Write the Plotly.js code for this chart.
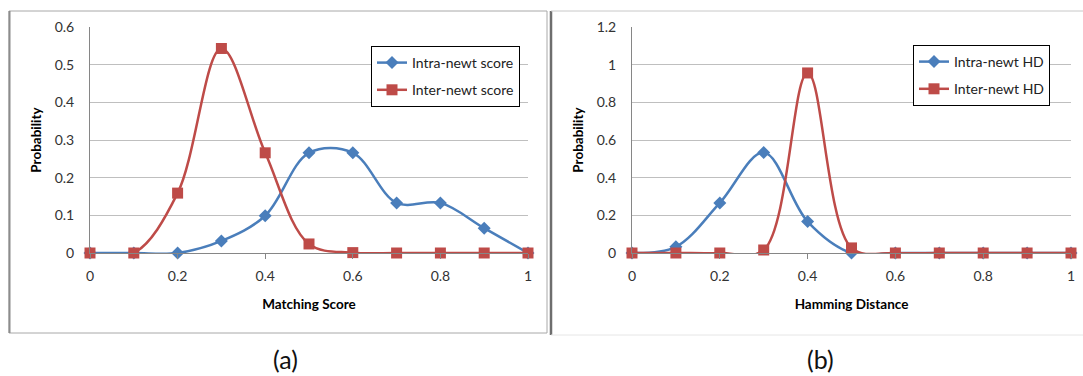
<!DOCTYPE html>
<html>
<head>
<meta charset="utf-8">
<script src="https://cdn.plot.ly/plotly-3.0.1.min.js"></script>
<style>
html,body{margin:0;padding:0;background:#fff;}
#chart{width:1083px;height:376px;}
</style>
</head>
<body>
<div id="chart"></div>
<script>
// ---- data ----
const xValues = [0, 0.1, 0.2, 0.3, 0.4, 0.5, 0.6, 0.7, 0.8, 0.9, 1];
const intraScore = [0, 0, 0, 0.032, 0.099, 0.266, 0.266, 0.133, 0.133, 0.066, 0];
const interScore = [0, 0, 0.159, 0.543, 0.266, 0.024, 0.001, 0, 0, 0, 0];
const intraHD = [0, 0.033, 0.266, 0.533, 0.167, 0, 0, 0, 0, 0, 0];
const interHD = [0, 0, 0, 0.016, 0.956, 0.027, 0, 0, 0, 0, 0];
const seriesNamesA = ["Intra-newt score", "Inter-newt score"];
const seriesNamesB = ["Intra-newt HD", "Inter-newt HD"];
const xTickVals = [0, 0.2, 0.4, 0.6, 0.8, 1];
const xTickText = ["0", "0.2", "0.4", "0.6", "0.8", "1"];
const yTickValsA = [0, 0.1, 0.2, 0.3, 0.4, 0.5, 0.6];
const yTickTextA = ["0", "0.1", "0.2", "0.3", "0.4", "0.5", "0.6"];
const yTickValsB = [0, 0.2, 0.4, 0.6, 0.8, 1, 1.2];
const yTickTextB = ["0", "0.2", "0.4", "0.6", "0.8", "1", "1.2"];
const xTitleA = "Matching Score";
const xTitleB = "Hamming Distance";
const yTitle = "Probability";
const panelLabels = ["(a)", "(b)"];

// ---- style ----
const W = 1083, H = 376;
const px = v => v / W;
const py = v => 1 - v / H;
const BLUE = "#4A7EBB", RED = "#BE4B48";
const FONT = "Lato, 'Open Sans', sans-serif";

function line(x, y, name, color, sym, size, xa, ya, legend, group) {
  return {
    x: x, y: y, name: name, type: "scatter", mode: "lines+markers",
    xaxis: xa, yaxis: ya, legend: legend, legendgroup: group,
    cliponaxis: false,
    line: {color: color, width: 2.5, shape: "spline", smoothing: 1},
    marker: {color: color, symbol: sym, size: size}
  };
}

const traces = [
  line(xValues, intraScore, seriesNamesA[0], BLUE, "diamond", 10, "x", "y", "legend", "a1"),
  line(xValues, interScore, seriesNamesA[1], RED, "square", 11, "x", "y", "legend", "a2"),
  line(xValues, intraHD, seriesNamesB[0], BLUE, "diamond", 10, "x2", "y2", "legend2", "b1"),
  line(xValues, interHD, seriesNamesB[1], RED, "square", 11, "x2", "y2", "legend2", "b2")
];

function xaxis(domain, title, anchor) {
  return {
    domain: domain, anchor: anchor, range: [0, 1], fixedrange: true,
    tickvals: xTickVals, ticktext: xTickText,
    showgrid: false, zeroline: false,
    showline: true, linecolor: "#868686", linewidth: 1,
    ticks: "outside", ticklen: 5, tickcolor: "#868686",
    ticklabelstandoff: 5,
    tickfont: {family: FONT, size: 14, color: "#333"},
    title: {text: title, font: {family: FONT, size: 13.5, color: "#000", weight: "bold"}, standoff: 16}
  };
}
function yaxis(domain, vals, text, anchor, maxv) {
  return {
    domain: domain, anchor: anchor, range: [0, maxv], fixedrange: true,
    tickvals: vals, ticktext: text,
    showgrid: true, gridcolor: "#BFBFBF", gridwidth: 1,
    zeroline: false,
    showline: true, linecolor: "#868686", linewidth: 1,
    ticks: "", ticklabelstandoff: 12,
    tickfont: {family: FONT, size: 14, color: "#333"},
    title: {text: yTitle, font: {family: FONT, size: 13.5, color: "#000", weight: "bold"}, standoff: 9}
  };
}

const yDom = [py(253), py(27)];

const legendStyle = (x, y) => ({
  x: x, y: y, xanchor: "left", yanchor: "top",
  xref: "paper", yref: "paper",
  bordercolor: "#000", borderwidth: 1, bgcolor: "#fff",
  font: {family: FONT, size: 14, color: "#222"},
  traceorder: "grouped", tracegroupgap: 6, itemwidth: 30
});

const layout = {
  width: W, height: H,
  margin: {l: 0, r: 0, t: 0, b: 0},
  paper_bgcolor: "#fff", plot_bgcolor: "rgba(0,0,0,0)",
  showlegend: true,
  xaxis: xaxis([px(90), px(528)], xTitleA, "y"),
  yaxis: yaxis(yDom, yTickValsA, yTickTextA, "x", 0.6),
  xaxis2: xaxis([px(632), px(1071)], xTitleB, "y2"),
  yaxis2: yaxis(yDom, yTickValsB, yTickTextB, "x2", 1.2),
  legend: legendStyle(px(371), py(46)),
  legend2: legendStyle(px(913), py(45)),
  shapes: [
    {type: "rect", xref: "paper", yref: "paper", x0: px(9), x1: px(547), y0: py(333), y1: py(11),
     line: {color: "#A8A8A8", width: 1}, layer: "below"},
    {type: "line", xref: "paper", yref: "paper", x0: px(9.5), x1: px(9.5), y0: py(333), y1: py(11),
     line: {color: "#8C8C8C", width: 2}, layer: "below"},
    {type: "line", xref: "paper", yref: "paper", x0: px(551), x1: px(551), y0: py(335), y1: py(11),
     line: {color: "#6E6E6E", width: 2.5}, layer: "below"},
    {type: "line", xref: "paper", yref: "paper", x0: px(551), x1: px(1083), y0: py(11), y1: py(11),
     line: {color: "#C8C8C8", width: 1}, layer: "below"},
    {type: "line", xref: "paper", yref: "paper", x0: px(551), x1: px(1083), y0: py(335), y1: py(335),
     line: {color: "#E6E6E6", width: 1}, layer: "below"}
  ],
  annotations: [
    {text: panelLabels[0], xref: "paper", yref: "paper", x: px(285), y: py(359),
     xanchor: "center", yanchor: "middle", showarrow: false,
     font: {family: FONT, size: 25, color: "#111"}},
    {text: panelLabels[1], xref: "paper", yref: "paper", x: px(820), y: py(359),
     xanchor: "center", yanchor: "middle", showarrow: false,
     font: {family: FONT, size: 25, color: "#111"}}
  ]
};

Plotly.newPlot("chart", traces, layout, {displayModeBar: false, staticPlot: true});
</script>
</body>
</html>
